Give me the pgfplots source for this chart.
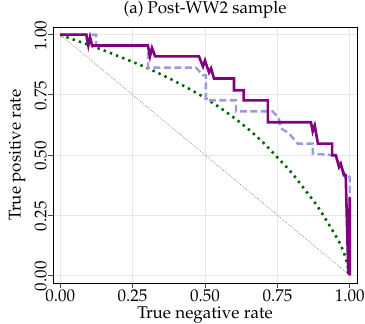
\documentclass[border=0pt]{standalone}
\usepackage[T1]{fontenc}
\usepackage{mathpazo}
\usepackage{pgfplots}
\pgfplotsset{compat=1.18}
\definecolor{cpurple}{HTML}{800080}
\definecolor{clav}{HTML}{9A9ADE}
\definecolor{cgreen}{HTML}{006400}
\definecolor{cgrid}{HTML}{E6E6E6}
\begin{document}
\fontsize{17}{20}\selectfont
\begin{tikzpicture}
\path[use as bounding box] (-53pt,-41pt) rectangle (312pt,283pt);
\begin{axis}[
  scale only axis, width=304pt, height=256pt,
  anchor=south west, at={(0pt,0pt)},
  xmin=-0.025, xmax=1.025, ymin=-0.032, ymax=1.032,
  xtick={0,0.25,0.5,0.75,1}, ytick={0,0.25,0.5,0.75,1},
  xticklabels={0.00,0.25,0.50,0.75,1.00},
  yticklabels={0.00,0.25,0.50,0.75,1.00},
  tick pos=left, tick align=outside,
  major tick length=5pt,
  every tick/.style={black!70, line width=0.8pt},
  axis line style={black, line width=0.9pt},
  grid=major, major grid style={cgrid, line width=0.9pt},
  xticklabel style={anchor=north, inner sep=1pt, yshift=-1pt},
  yticklabel style={rotate=90, anchor=south, inner sep=1pt, xshift=-1pt},
  xlabel={True negative rate}, ylabel={True positive rate},
  xlabel style={at={(axis description cs:0.5,0)}, anchor=base, yshift=-36pt},
  ylabel style={at={(axis description cs:-0.118,0.5)}, anchor=center},
  title={(a) Post-WW2 sample},
  title style={at={(axis description cs:0.5,1)}, anchor=base, yshift=7pt, inner sep=0pt},
  clip=false,
]
\addplot[gray, line width=0.6pt, dash pattern=on 0.8pt off 1.2pt] coordinates {(0,1) (1,0)};
\addplot[cgreen, line width=2.6pt, dash pattern=on 2.4pt off 4.2pt, smooth] coordinates {
(0,1.000) (0.05,0.978) (0.10,0.957) (0.15,0.935) (0.20,0.911) (0.25,0.887)
(0.30,0.862) (0.35,0.834) (0.40,0.804) (0.45,0.772) (0.50,0.737) (0.55,0.698)
(0.60,0.655) (0.65,0.607) (0.70,0.553) (0.75,0.490) (0.80,0.425) (0.85,0.348)
(0.89,0.284) (0.93,0.207) (0.965,0.135) (0.985,0.075) (1.0,0.0)};
\addplot[clav, line width=2.4pt, dash pattern=on 7pt off 3.5pt] coordinates {
(0,1) (0.124,1) (0.124,0.955) (0.303,0.955) (0.303,0.863) (0.469,0.863)
(0.492,0.832) (0.503,0.831) (0.503,0.727) (0.607,0.727) (0.607,0.681)
(0.734,0.681) (0.755,0.652) (0.762,0.611) (0.790,0.590) (0.820,0.547)
(0.872,0.547) (0.872,0.506) (0.945,0.499) (0.963,0.464) (0.980,0.428)
(1.0,0.408) (1.0,0)};
\addplot[cpurple, line width=2.6pt, line join=miter] coordinates {
(0,1) (0.090,1) (0.097,0.955) (0.103,0.99) (0.110,0.955) (0.303,0.955)
(0.310,0.91) (0.317,0.945) (0.328,0.91) (0.479,0.91) (0.493,0.868)
(0.500,0.893) (0.514,0.843) (0.521,0.860) (0.531,0.818) (0.600,0.818)
(0.600,0.769) (0.634,0.769) (0.634,0.727) (0.717,0.727) (0.717,0.636)
(0.866,0.636) (0.872,0.598) (0.879,0.623) (0.890,0.547) (0.939,0.547)
(0.939,0.499) (0.952,0.499) (0.963,0.450) (0.969,0.464) (0.980,0.415)
(0.986,0.415) (0.995,0.005) (1.0,0.324) (1.0,0)};
\end{axis}
\end{tikzpicture}
\end{document}
